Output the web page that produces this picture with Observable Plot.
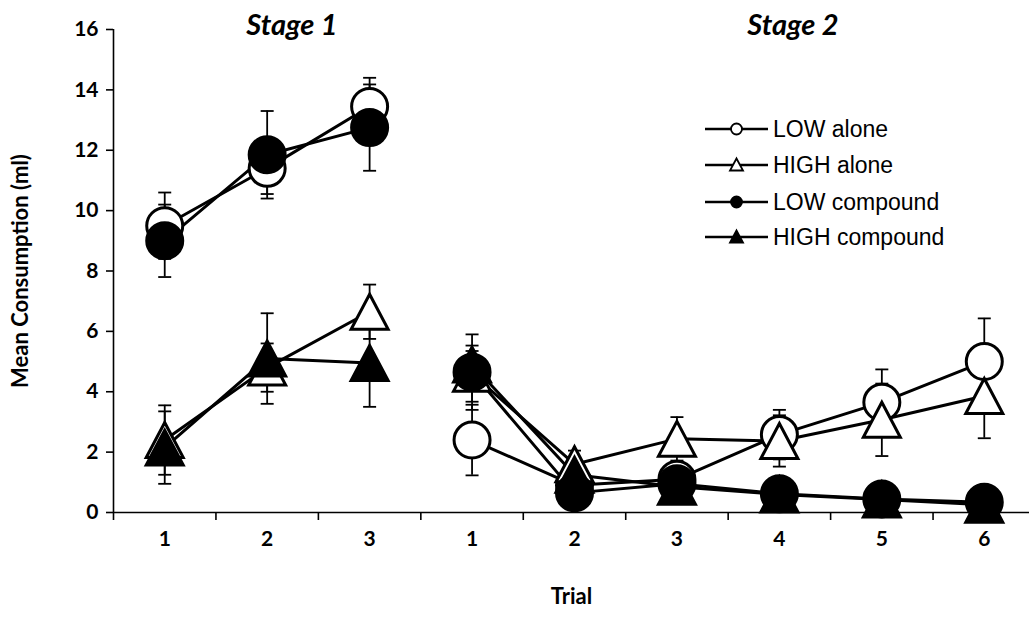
<!DOCTYPE html>
<html>
<head>
<meta charset="utf-8">
<script src="https://cdn.jsdelivr.net/npm/d3@7"></script>
<script src="https://cdn.jsdelivr.net/npm/@observablehq/plot@0.6"></script>
<style>
  body { margin: 0; background: #fff; }
  #wrap { position: relative; width: 1029px; height: 617px; overflow: hidden; background: #fff; }
  .stage { position: absolute; top: 6px; font-family: Lato, sans-serif; font-weight: bold; font-style: italic; font-size: 29px; color: #000; transform: translateX(-50%); white-space: nowrap; }
  .legend { position: absolute; left: 705px; top: 0; font-family: "Liberation Sans", Arial, sans-serif; font-size: 23px; color: #000; }
  .legend .row { position: absolute; left: 0; height: 24px; display: flex; align-items: center; white-space: nowrap; }
  .legend svg { display: block; margin-right: 5px; }
</style>
</head>
<body>
<div id="wrap"></div>
<script>
// ---- data ----
const stageNames = ["Stage 1", "Stage 2"];
const trialLabels = ["1", "2", "3", "1", "2", "3", "4", "5", "6"];
const trialStage = ["Stage 1", "Stage 1", "Stage 1", "Stage 2", "Stage 2", "Stage 2", "Stage 2", "Stage 2", "Stage 2"];
const seriesNames = ["LOW alone", "HIGH alone", "LOW compound", "HIGH compound"];

const lowAlone       = [9.5, 11.4, 13.45, 2.4, 0.9, 1.1, 2.58, 3.65, 5.0];
const lowAloneErr    = [1.1, 0.85, 0.95, 1.17, 0.3, 0.35, 0.82, 1.09, 1.43];
const highAlone      = [2.4, 4.8, 6.65, 4.6, 1.6, 2.44, 2.37, 3.07, 3.86];
const highAloneErr   = [1.15, 0.8, 0.9, 0.93, 0.45, 0.72, 0.85, 1.2, 1.4];
const lowCompound    = [9.0, 11.85, 12.75, 4.65, 0.65, 0.95, 0.62, 0.45, 0.34];
const lowCompoundErr = [1.2, 1.45, 1.43, 1.25, 0.2, 0.25, 0.2, 0.15, 0.15];
const highCompound   = [2.15, 5.1, 4.95, 4.9, 1.25, 0.85, 0.6, 0.43, 0.26];
const highCompoundErr= [1.2, 1.5, 1.45, 0.45, 0.3, 0.25, 0.2, 0.15, 0.1];

const seriesValues = [lowAlone, highAlone, lowCompound, highCompound];
const seriesErrors = [lowAloneErr, highAloneErr, lowCompoundErr, highCompoundErr];
const seriesShape = ["circle", "triangle", "circle", "triangle"];
const seriesFill = ["white", "white", "black", "black"];

const rows = [];
seriesNames.forEach((s, si) => {
  seriesValues[si].forEach((v, i) => {
    rows.push({series: s, si, idx: i + 1, stage: trialStage[i], value: v, err: seriesErrors[si][i]});
  });
});

// ---- symbols ----
const capSymbol = {draw(ctx) { ctx.moveTo(-6.5, 0); ctx.lineTo(6.5, 0); }};
const triSymbol = {draw(ctx) { const h = 17.5; ctx.moveTo(0, -h); ctx.lineTo(h + 1, h); ctx.lineTo(-h - 1, h); ctx.closePath(); }};

const font = {fontFamily: "Lato, sans-serif", fontWeight: "bold"};

const markerMarks = seriesNames.map((s, si) =>
  Plot.dot(rows.filter(d => d.si === si), {
    x: "idx", y: "value",
    symbol: seriesShape[si] === "circle" ? "circle" : triSymbol,
    r: 18,
    fill: seriesFill[si], stroke: "black", strokeWidth: 3
  })
);

const plot = Plot.plot({
  width: 1029, height: 617,
  marginLeft: 113, marginRight: 0, marginTop: 29, marginBottom: 105,
  x: {domain: [0.5, 9.5], range: [113, 1035], axis: null},
  y: {domain: [0, 16], axis: null},
  style: {background: "white", overflow: "visible", fontFamily: "Lato, sans-serif"},
  marks: [
    Plot.axisY({ticks: d3.range(0, 17, 2), tickSize: 7, tickPadding: 8, strokeWidth: 1.6, fontSize: 21, ...font, label: null}),
    Plot.axisX({ticks: d3.range(0.5, 10, 1), tickSize: 8, strokeWidth: 1.6, tickFormat: () => "", label: null}),
    Plot.axisX({ticks: d3.range(1, 10, 1), tickSize: 0, tickPadding: 19, tickFormat: i => trialLabels[i - 1], fontSize: 21, ...font, label: null}),
    Plot.ruleX([0.5], {stroke: "black", strokeWidth: 1.6}),
    Plot.ruleY([0], {stroke: "black", strokeWidth: 1.6}),
    Plot.text(["Mean Consumption (ml)"], {frameAnchor: "left", textAnchor: "middle", rotate: -90, dx: -93, fontSize: 22, ...font, fill: "black"}),
    Plot.text(["Trial"], {frameAnchor: "bottom", dy: 91, fontSize: 22, ...font, fill: "black"}),
    Plot.line(rows, {x: "idx", y: "value", z: d => d.series + "|" + d.stage, stroke: "black", strokeWidth: 3}),
    Plot.ruleX(rows, {x: "idx", y1: d => d.value - d.err, y2: d => d.value + d.err, stroke: "black", strokeWidth: 1.8}),
    Plot.dot(rows, {x: "idx", y: d => d.value + d.err, symbol: capSymbol, r: 3, stroke: "black", strokeWidth: 1.8}),
    Plot.dot(rows, {x: "idx", y: d => d.value - d.err, symbol: capSymbol, r: 3, stroke: "black", strokeWidth: 1.8}),
    ...markerMarks
  ]
});

const wrap = document.getElementById("wrap");
wrap.appendChild(plot);

// stage titles
const stageLeft = [292, 793];
stageNames.forEach((s, i) => {
  const d = document.createElement("div");
  d.className = "stage";
  d.style.left = stageLeft[i] + "px";
  d.textContent = s;
  wrap.appendChild(d);
});

// legend
const legend = document.createElement("div");
legend.className = "legend";
const rowTops = [117, 153, 190, 225];
seriesNames.forEach((s, si) => {
  const row = document.createElement("div");
  row.className = "row";
  row.style.top = rowTops[si] + "px";
  const ns = "http://www.w3.org/2000/svg";
  const svg = document.createElementNS(ns, "svg");
  svg.setAttribute("width", 63); svg.setAttribute("height", 24);
  const ln = document.createElementNS(ns, "line");
  ln.setAttribute("x1", 0); ln.setAttribute("x2", 63); ln.setAttribute("y1", 12); ln.setAttribute("y2", 12);
  ln.setAttribute("stroke", "black"); ln.setAttribute("stroke-width", 2.5);
  svg.appendChild(ln);
  let m;
  if (seriesShape[si] === "circle") {
    m = document.createElementNS(ns, "circle");
    m.setAttribute("cx", 31.5); m.setAttribute("cy", 12); m.setAttribute("r", 5.5);
  } else {
    m = document.createElementNS(ns, "path");
    m.setAttribute("d", "M31.5,5.5L38,17.5L25,17.5Z");
  }
  m.setAttribute("fill", seriesFill[si]); m.setAttribute("stroke", "black"); m.setAttribute("stroke-width", 1.8);
  svg.appendChild(m);
  row.appendChild(svg);
  const t = document.createElement("span");
  t.textContent = s;
  row.appendChild(t);
  legend.appendChild(row);
});
wrap.appendChild(legend);
</script>
</body>
</html>
